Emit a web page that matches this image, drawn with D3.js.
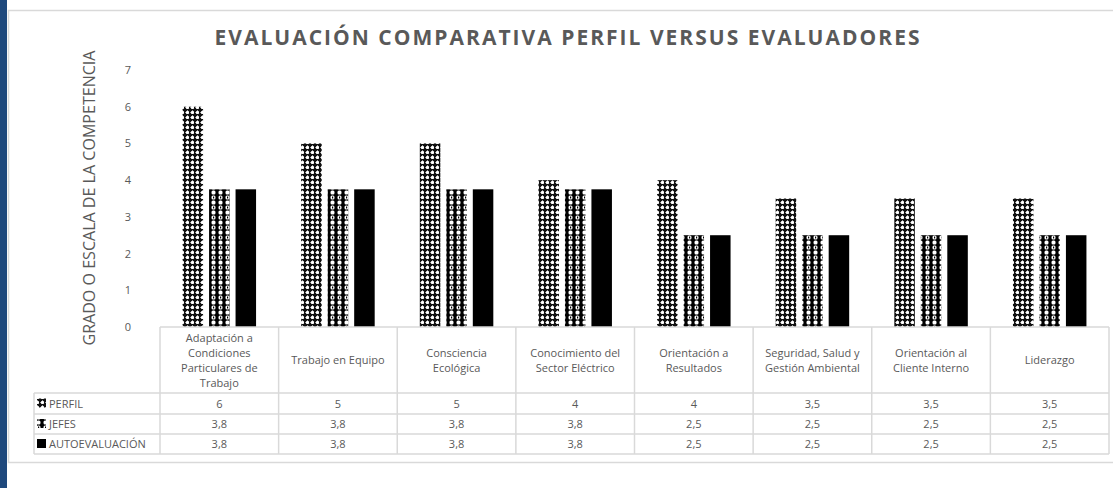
<!DOCTYPE html>
<html><head><meta charset="utf-8">
<script src="https://cdn.jsdelivr.net/npm/d3@7"></script>
<style>
html,body{margin:0;padding:0;background:#fff;}
svg{display:block;font-family:"Open Sans",sans-serif;}
</style></head>
<body><svg id="c" width="1113" height="488"></svg>
<script>
const categories = ["Adaptación a Condiciones Particulares de Trabajo","Trabajo en Equipo","Consciencia Ecológica","Conocimiento del Sector Eléctrico","Orientación a Resultados","Seguridad, Salud y Gestión Ambiental","Orientación al Cliente Interno","Liderazgo"];
const seriesNames = ["PERFIL","JEFES","AUTOEVALUACIÓN"];
const perfil = [6,5,5,4,4,3.5,3.5,3.5];
const jefes = [3.75,3.75,3.75,3.75,2.5,2.5,2.5,2.5];
const autoevaluacion = [3.75,3.75,3.75,3.75,2.5,2.5,2.5,2.5];
const yTicks = [0,1,2,3,4,5,6,7];
const title = "EVALUACIÓN COMPARATIVA PERFIL VERSUS EVALUADORES";
const yTitle = "GRADO O ESCALA DE LA COMPETENCIA";

const seriesValues = [perfil, jefes, autoevaluacion];
const svg = d3.select("#c");
const grey = "#595959", line = "#d9d9d9";

// patterns
const defs = svg.append("defs");
const p1 = defs.append("pattern").attr("id","pat0").attr("patternUnits","userSpaceOnUse").attr("width",5).attr("height",5);
p1.append("rect").attr("width",5).attr("height",5).attr("fill","#111");
p1.append("rect").attr("x",1).attr("y",1).attr("width",3).attr("height",3).attr("rx",0.8).attr("fill","#fff");
p1.append("rect").attr("x",0).attr("y",2).attr("width",1).attr("height",1).attr("fill","#999");
p1.append("rect").attr("x",2).attr("y",0).attr("width",1).attr("height",1).attr("fill","#999");
const p2 = defs.append("pattern").attr("id","pat1").attr("patternUnits","userSpaceOnUse").attr("width",7).attr("height",10);
p2.append("rect").attr("width",7).attr("height",10).attr("fill","#000");
p2.append("rect").attr("x",1.5).attr("y",0.5).attr("width",4).attr("height",4).attr("rx",1.5).attr("fill","#fff");
p2.append("rect").attr("x",1.5).attr("y",5.5).attr("width",4).attr("height",4).attr("rx",1.5).attr("fill","#fff");
p2.append("rect").attr("x",3).attr("y",6.5).attr("width",1.2).attr("height",2).attr("fill","#000");
const fills = ["url(#pat0)","url(#pat1)","#000"];

// frame
svg.append("rect").attr("x",0).attr("y",0).attr("width",7).attr("height",488).attr("fill","#1f497d");
svg.append("path").attr("d","M1113,10.5 H8.5 V462.5 H1113").attr("fill","none").attr("stroke",line).attr("stroke-width",1.5);

// title
svg.append("text").attr("x",567).attr("y",45).attr("text-anchor","middle")
  .attr("font-size",21).attr("font-weight","bold").attr("fill",grey)
  .attr("textLength",705).attr("lengthAdjust","spacing").text(title);

// scales
const tableLeft = 34, plotLeft = 160, plotRight = 1109;
const x0 = d3.scaleBand().domain(categories).range([plotLeft, plotRight]);
const groupW = 73.5;
const x1 = d3.scaleBand().domain(seriesNames).range([0, groupW]).paddingInner(0.226);
const y = d3.scaleLinear().domain([0,7]).range([327,70]);

// y axis ticks (no line)
const yAxis = svg.append("g").attr("transform","translate(131,0)")
  .call(d3.axisLeft(y).tickValues(yTicks).tickFormat(d3.format("d")).tickSize(0).tickPadding(0));
yAxis.select(".domain").remove();
yAxis.selectAll("text").attr("fill",grey).attr("font-size",11).attr("font-family","Open Sans");

svg.append("text").attr("transform",`translate(95,${198}) rotate(-90)`).attr("text-anchor","middle")
  .attr("font-size",17).attr("fill",grey).attr("textLength",295).attr("lengthAdjust","spacingAndGlyphs").text(yTitle);

// bars
const off = (x0.bandwidth()-groupW)/2;
seriesNames.forEach((s,si)=>{
  svg.append("g").selectAll("rect").data(seriesValues[si]).join("rect")
    .attr("x",(d,i)=>x0(categories[i])+off+x1(s))
    .attr("y",d=>y(d))
    .attr("width",x1.bandwidth())
    .attr("height",d=>y(0)-y(d))
    .attr("fill",fills[si]);
});

// table
const rowTops = [327,393,414,434,454];
const tg = svg.append("g").attr("stroke",line).attr("stroke-width",1.5).attr("fill","none");
tg.append("line").attr("x1",plotLeft).attr("x2",plotRight).attr("y1",rowTops[0]).attr("y2",rowTops[0]);
rowTops.slice(1).forEach(yy=>tg.append("line").attr("x1",tableLeft).attr("x2",plotRight).attr("y1",yy).attr("y2",yy));
tg.append("line").attr("x1",tableLeft).attr("x2",tableLeft).attr("y1",rowTops[1]).attr("y2",rowTops[4]);
categories.forEach(c=>tg.append("line").attr("x1",x0(c)).attr("x2",x0(c)).attr("y1",rowTops[0]).attr("y2",rowTops[4]));
tg.append("line").attr("x1",plotRight).attr("x2",plotRight).attr("y1",rowTops[0]).attr("y2",rowTops[4]);

// category labels with wrapping
const maxW = 104;
categories.forEach(c=>{
  const t = svg.append("text").attr("font-size",11).attr("fill",grey).attr("text-anchor","middle");
  const words = c.split(" ");
  let lines = [], cur = [];
  const probe = svg.append("text").attr("font-size",11);
  words.forEach(w=>{
    const test = cur.concat([w]).join(" ");
    probe.text(test);
    if (cur.length && probe.node().getComputedTextLength() > maxW) { lines.push(cur.join(" ")); cur=[w]; }
    else cur.push(w);
  });
  lines.push(cur.join(" "));
  probe.remove();
  const lh = 15, cy = (rowTops[0]+rowTops[1])/2;
  const first = cy - (lines.length-1)*lh/2 + 4;
  lines.forEach((l,i)=>t.append("tspan").attr("x",x0(c)+x0.bandwidth()/2).attr("y",first+i*lh).text(l));
});

// values
const fmt = v => (Number.isInteger(v) ? String(v) : v.toFixed(1)).replace(".",",");
seriesNames.forEach((s,si)=>{
  const cy = (rowTops[si+1]+rowTops[si+2])/2 + 4;
  svg.append("g").selectAll("text").data(seriesValues[si]).join("text")
    .attr("x",(d,i)=>x0(categories[i])+x0.bandwidth()/2).attr("y",cy)
    .attr("text-anchor","middle").attr("font-size",11).attr("fill",grey).text(d=>fmt(d));
  svg.append("rect").attr("x",37).attr("y",cy-9).attr("width",9).attr("height",9).attr("fill",fills[si]);
  svg.append("text").attr("x",49).attr("y",cy).attr("font-size",11).attr("fill",grey).text(s);
});
</script></body></html>
